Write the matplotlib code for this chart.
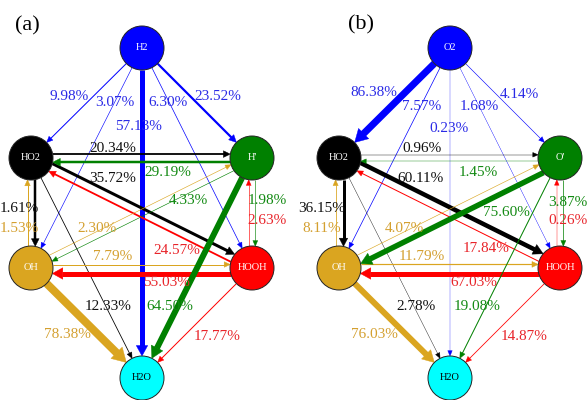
# reaction flux networks for the H2 and O2 pathways
import matplotlib
matplotlib.use("Agg")
import matplotlib.pyplot as plt
import numpy as np
from matplotlib.patches import Circle, Polygon

plt.rcParams['font.family'] = ['Liberation Serif', 'DejaVu Serif']

# ---- data: edges (source, target, percentage) ----
src_a = ["H2", "H2", "H2", "H2", "H2", "HO2", "H'", "HO2", "HOOH", "HO2", "OH",
         "HO2", "OH", "H'", "H'", "HOOH", "OH", "HOOH", "OH", "H'", "HOOH"]
dst_a = ["HO2", "OH", "H2O", "HOOH", "H'", "H'", "HO2", "HOOH", "HO2", "OH", "HO2",
         "H2O", "H'", "OH", "HOOH", "H'", "HOOH", "OH", "H2O", "H2O", "H2O"]
pct_a = [9.98, 3.07, 57.13, 6.30, 23.52, 20.34, 29.19, 35.72, 24.57, 1.61, 1.53,
         12.33, 2.30, 4.33, 1.98, 2.63, 7.79, 55.03, 78.38, 64.50, 17.77]

src_b = ["O2", "O2", "O2", "O2", "O2", "HO2", "O'", "HO2", "HOOH", "HO2", "OH",
         "HO2", "OH", "O'", "O'", "HOOH", "OH", "HOOH", "OH", "O'", "HOOH"]
dst_b = ["HO2", "OH", "H2O", "HOOH", "O'", "O'", "HO2", "HOOH", "HO2", "OH", "HO2",
         "H2O", "O'", "OH", "HOOH", "O'", "HOOH", "OH", "H2O", "H2O", "H2O"]
pct_b = [86.38, 7.57, 0.23, 1.68, 4.14, 0.96, 1.45, 60.11, 17.84, 36.15, 8.11,
         2.78, 4.07, 75.60, 3.87, 0.26, 11.79, 67.03, 76.03, 19.08, 14.87]

# ---- style ----
# line widths in pixels, same order as the edges
lw_a = [1.0, 0.6, 5.0, 0.7, 2.2, 1.8, 2.5, 3.0, 1.8, 2.5, 1.0,
        0.8, 0.6, 0.6, 0.6, 0.6, 1.0, 5.0, 8.0, 6.0, 1.0]
lw_b = [7.0, 0.7, 0.3, 0.4, 0.6, 0.4, 0.4, 4.5, 1.0, 3.0, 0.8,
        0.4, 0.6, 5.5, 0.7, 0.4, 1.2, 5.0, 6.0, 1.0, 0.8]

colors = {"H2": "#0000ff", "O2": "#0000ff", "HO2": "#000000", "H'": "#008000",
          "O'": "#008000", "OH": "#daa520", "HOOH": "#ff0000", "H2O": "#00ffff"}
text_colors = {"H2": "#2a2ae6", "O2": "#2a2ae6", "HO2": "#111111", "H'": "#138a13",
               "O'": "#138a13", "OH": "#d4a030", "HOOH": "#e8242a"}

# node centres in pixel coordinates (y downwards)
def layout(x0):
    return {"top": (x0 + 142, 48), "HO2": (x0 + 31, 158), "side": (x0 + 252, 158),
            "OH": (x0 + 31, 268), "HOOH": (x0 + 252, 268), "H2O": (x0 + 142, 378)}

pos_a = layout(0)
pos_a = {"H2": pos_a["top"], "HO2": pos_a["HO2"], "H'": pos_a["side"],
         "OH": pos_a["OH"], "HOOH": pos_a["HOOH"], "H2O": pos_a["H2O"]}
pos_b = layout(308)
pos_b = {"O2": pos_b["top"], "HO2": pos_b["HO2"], "O'": pos_b["side"],
         "OH": pos_b["OH"], "HOOH": pos_b["HOOH"], "H2O": pos_b["H2O"]}

# label centres for each edge
lab_a = [(69, 97), (115, 103), (138, 127), (168, 103), (218, 97), (113, 148),
         (168, 172), (113, 178), (177, 250), (19, 209), (19, 228), (108, 307),
         (97, 229), (188, 201), (267, 201), (267, 221), (113, 257), (167, 283),
         (67, 335), (170, 306), (217, 336)]
lab_b = [(374, 92), (422, 107), (449, 128), (479, 107), (519, 95), (422, 148),
         (478, 172), (421, 178), (486, 249), (322, 209), (322, 228), (416, 307),
         (404, 229), (506, 212), (568, 202), (568, 221), (422, 257), (474, 283),
         (374, 335), (477, 306), (524, 336)]

R = 22.0
PX = 0.72  # points per pixel at dpi 100


def draw_edge(ax, p, q, w, color, offset):
    p = np.array(p, float)
    q = np.array(q, float)
    d = (q - p) / np.linalg.norm(q - p)
    # left-hand normal on screen (y points down)
    n = np.array([d[1], -d[0]])
    s = offset
    o = n * s
    along = np.sqrt(R**2 - s**2)
    start = p + o + d * along
    tip = q + o - d * along
    hl = 5.0 + 1.1 * w
    hw = 4.0 + 1.5 * w
    base = tip - d * hl
    ax.plot([start[0], base[0] + d[0] * 0.5], [start[1], base[1] + d[1] * 0.5],
            color=color, lw=w * PX, solid_capstyle='butt', zorder=2)
    head = Polygon([tip, base + n * hw / 2, base - n * hw / 2], closed=True,
                   facecolor=color, edgecolor=color, lw=0.3, zorder=3)
    ax.add_patch(head)


def draw_panel(ax, pos, src, dst, pct, lws, labels):
    pairs = set(zip(src, dst))
    for s, t, v, w, (lx, ly) in zip(src, dst, pct, lws, labels):
        off = 3.0 + w / 2 if (t, s) in pairs else 0.0
        draw_edge(ax, pos[s], pos[t], w, colors[s], off)
        ax.text(lx, ly, f"{v:.2f}%", color=text_colors[s], fontsize=11,
                ha='center', va='center', zorder=6)
    for name, (x, y) in pos.items():
        ax.add_patch(Circle((x, y), R, facecolor=colors[name], edgecolor='#222222',
                            lw=0.7, zorder=4))
        tc = 'black' if name == "H2O" else 'white'
        ax.text(x, y, name, color=tc, fontsize=7.5, ha='center', va='center', zorder=5)


fig = plt.figure(figsize=(5.88, 4.0), dpi=100)
ax = fig.add_axes([0, 0, 1, 1])
ax.set_xlim(0, 588)
ax.set_ylim(400, 0)
ax.axis('off')

draw_panel(ax, pos_a, src_a, dst_a, pct_a, lw_a, lab_a)
draw_panel(ax, pos_b, src_b, dst_b, pct_b, lw_b, lab_b)

ax.text(27, 26, "(a)", fontsize=16, ha='center', va='center')
ax.text(361, 25, "(b)", fontsize=16, ha='center', va='center')

fig.savefig("out.png", dpi=100)
